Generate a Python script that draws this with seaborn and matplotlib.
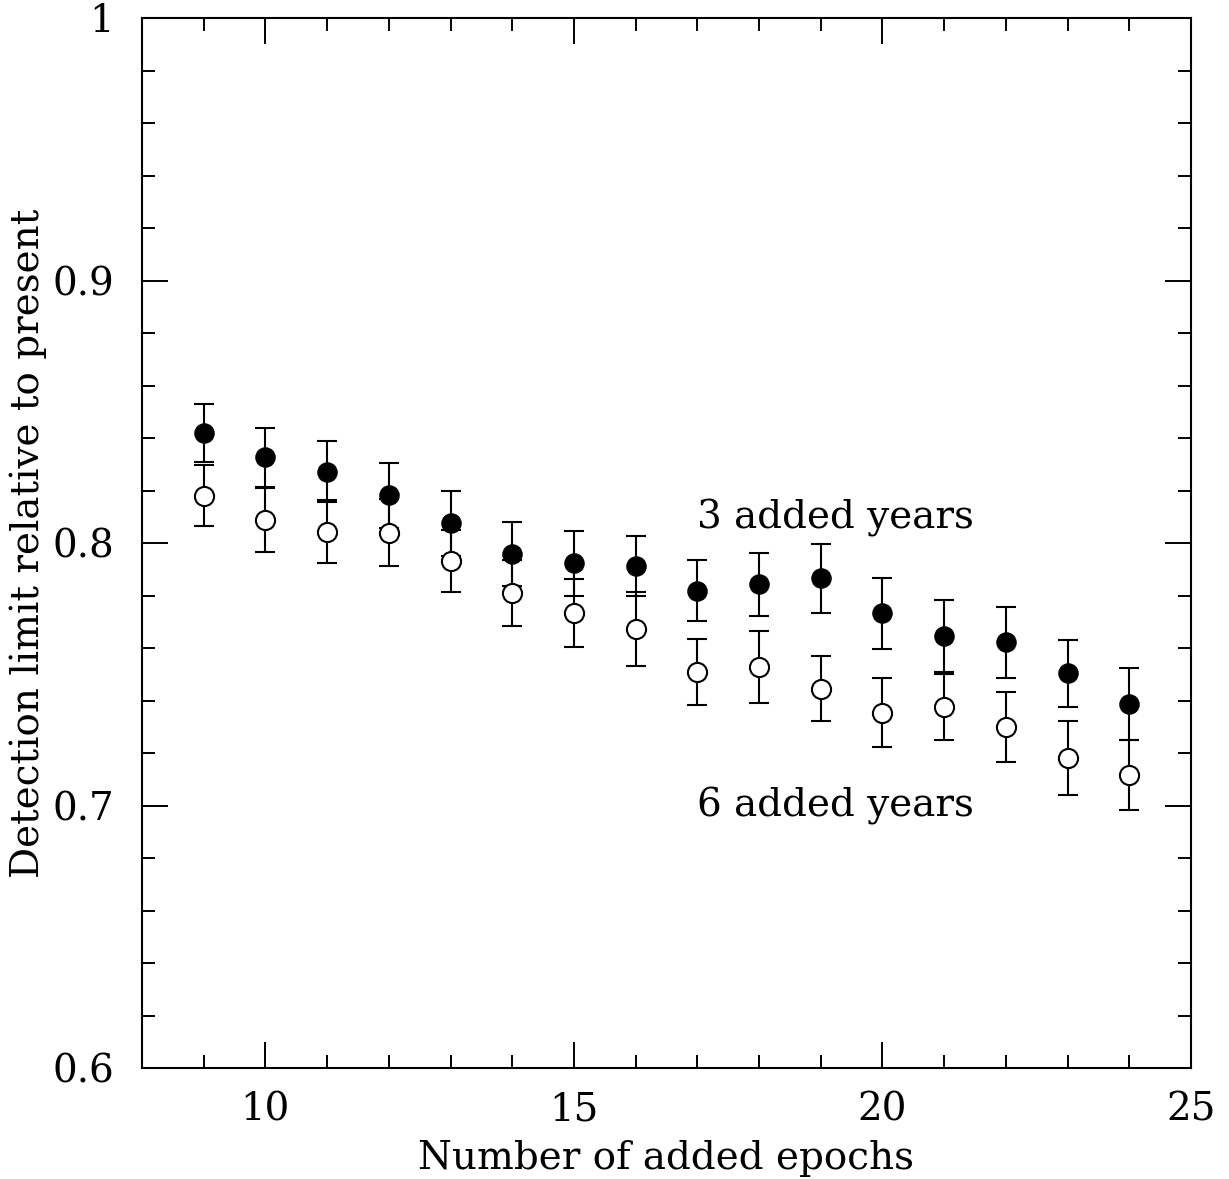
import matplotlib
matplotlib.use("Agg")
import matplotlib.pyplot as plt
import seaborn as sns
import pandas as pd
from matplotlib.ticker import MultipleLocator

epochs = [9, 10, 11, 12, 13, 14, 15, 16, 17, 18, 19, 20, 21, 22, 23, 24]
limit_3yr = [0.842, 0.8327, 0.8272, 0.8181, 0.8075, 0.7958, 0.7923, 0.7913,
             0.7818, 0.7842, 0.7865, 0.7732, 0.7645, 0.7621, 0.7503, 0.7386]
err_3yr = [0.011, 0.0113, 0.0117, 0.0125, 0.0124, 0.0122, 0.0123, 0.0115,
           0.0117, 0.012, 0.0131, 0.0134, 0.0137, 0.0134, 0.0127, 0.0136]
limit_6yr = [0.818, 0.8088, 0.8043, 0.8039, 0.7932, 0.781, 0.7734, 0.7672,
             0.7509, 0.7528, 0.7445, 0.7354, 0.7375, 0.7299, 0.7181, 0.7117]
err_6yr = [0.0116, 0.0121, 0.012, 0.0127, 0.0118, 0.0127, 0.013, 0.0142,
           0.0125, 0.0136, 0.0123, 0.0133, 0.0127, 0.0133, 0.0141, 0.0134]
series_labels = ["3 added years", "6 added years"]
ytick_vals = [0.6, 0.7, 0.8, 0.9, 1.0]
ytick_labels = ["0.6", "0.7", "0.8", "0.9", "1"]

df = pd.concat([
    pd.DataFrame({"epochs": epochs, "limit": limit_3yr, "err": err_3yr, "series": series_labels[0]}),
    pd.DataFrame({"epochs": epochs, "limit": limit_6yr, "err": err_6yr, "series": series_labels[1]}),
])

sns.set_style("ticks")
plt.rcParams['font.family'] = ['DejaVu Serif']
plt.rcParams['text.color'] = 'black'
plt.rcParams['axes.labelcolor'] = 'black'
plt.rcParams['axes.linewidth'] = 1.5

fig = plt.figure(figsize=(12.29, 11.79), dpi=100)
ax = fig.add_axes([142 / 1229, 1 - 1068 / 1179, (1191 - 142) / 1229, (1068 - 18) / 1179])

for lab in series_labels:
    d = df[df.series == lab]
    ax.errorbar(d.epochs, d.limit, yerr=d.err, fmt="none", ecolor="black",
                elinewidth=1.5, capsize=7, capthick=1.5, zorder=2)

sns.scatterplot(data=df[df.series == series_labels[1]], x="epochs", y="limit", ax=ax,
                marker="o", s=190, facecolor="white", edgecolor="black", linewidth=1.5,
                zorder=3, legend=False)
sns.scatterplot(data=df[df.series == series_labels[0]], x="epochs", y="limit", ax=ax,
                marker="o", s=190, color="black", edgecolor="black", linewidth=1.0,
                zorder=4, legend=False)

ax.set_xlim(8, 25)
ax.set_ylim(0.6, 1.0)
ax.xaxis.set_major_locator(MultipleLocator(5))
ax.xaxis.set_minor_locator(MultipleLocator(1))
ax.yaxis.set_minor_locator(MultipleLocator(0.02))
ax.set_yticks(ytick_vals)
ax.set_yticklabels(ytick_labels)
ax.tick_params(which="both", direction="in", top=True, right=True, width=1.4,
               labelsize=28, colors="black")
ax.tick_params(which="major", length=19)
ax.tick_params(which="minor", length=9.5)
ax.tick_params(axis="x", which="major", pad=17)
ax.tick_params(axis="y", which="major", pad=20)
for s in ax.spines.values():
    s.set_color("black")
    s.set_linewidth(1.5)

ax.set_xlabel("Number of added epochs", fontsize=28, labelpad=8)
ax.set_ylabel("Detection limit relative to present", fontsize=28, labelpad=4)

ax.text(17.0, 0.8095, series_labels[0], fontsize=28, va="center", ha="left")
ax.text(17.0, 0.7, series_labels[1], fontsize=28, va="center", ha="left")

fig.savefig("out.png", dpi=100)
